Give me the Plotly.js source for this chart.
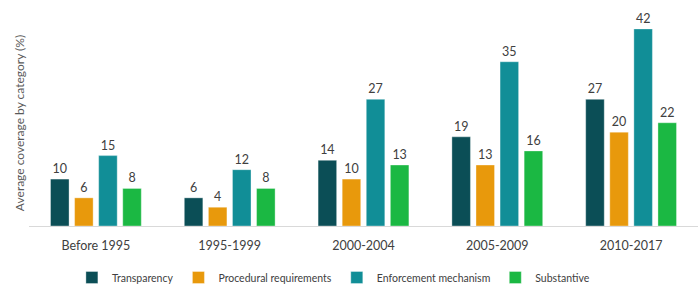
<!DOCTYPE html>
<html>
<head>
<meta charset="utf-8">
<script src="https://cdn.plot.ly/plotly-3.0.1.min.js"></script>
<style>html,body{margin:0;padding:0;background:#fff;}#chart{width:700px;height:285px;}</style>
</head>
<body>
<div id="chart"></div>
<script>
const categories = ["Before 1995", "1995-1999", "2000-2004", "2005-2009", "2010-2017"];
const seriesNames = ["Transparency", "Procedural requirements", "Enforcement mechanism", "Substantive"];
const transparency = [10, 6, 14, 19, 27];
const procedural = [6, 4, 10, 13, 20];
const enforcement = [15, 12, 27, 35, 42];
const substantive = [8, 8, 13, 16, 22];
const colors = ["#0b4e56", "#e8990c", "#118e97", "#1bb843"];

const values = [transparency, procedural, enforcement, substantive];
const font = "Lato, 'Open Sans', sans-serif";
const traces = values.map((v, i) => ({
  type: "bar",
  name: seriesNames[i],
  x: categories,
  y: v,
  marker: {color: colors[i], line: {color: "rgba(255,255,255,0.35)", width: 1}},
  text: v.map(String),
  textposition: "outside",
  textfont: {family: font, size: 12.5, color: "#404040"},
  cliponaxis: false,
  hoverinfo: "skip"
}));

const layout = {
  width: 700, height: 285,
  margin: {l: 29, r: 2, t: 20, b: 59, autoexpand: false},
  paper_bgcolor: "#fff", plot_bgcolor: "#fff",
  barmode: "group",
  bargap: 0.28,
  bargroupgap: 0.23,
  font: {family: font, size: 12, color: "#404040"},
  showlegend: true,
  legend: {orientation: "h", x: 0.455, xanchor: "center", y: -0.25, yanchor: "middle",
           font: {family: font, size: 10.5, color: "#404040"}, itemwidth: 30},
  xaxis: {showline: true, linecolor: "#d9d9d9", linewidth: 1, ticks: "", showgrid: false, automargin: false,
          tickfont: {family: font, size: 12.5, color: "#404040"}, ticklabelstandoff: 8, fixedrange: true},
  yaxis: {range: [0, 43.9], showgrid: false, zeroline: false, showticklabels: false, ticks: "", automargin: false,
          title: {text: "Average coverage by category (%)", font: {family: font, size: 12, color: "#595959"}, standoff: 0},
          fixedrange: true}
};
Plotly.newPlot("chart", traces, layout, {displayModeBar: false, staticPlot: true});
</script>
</body>
</html>
